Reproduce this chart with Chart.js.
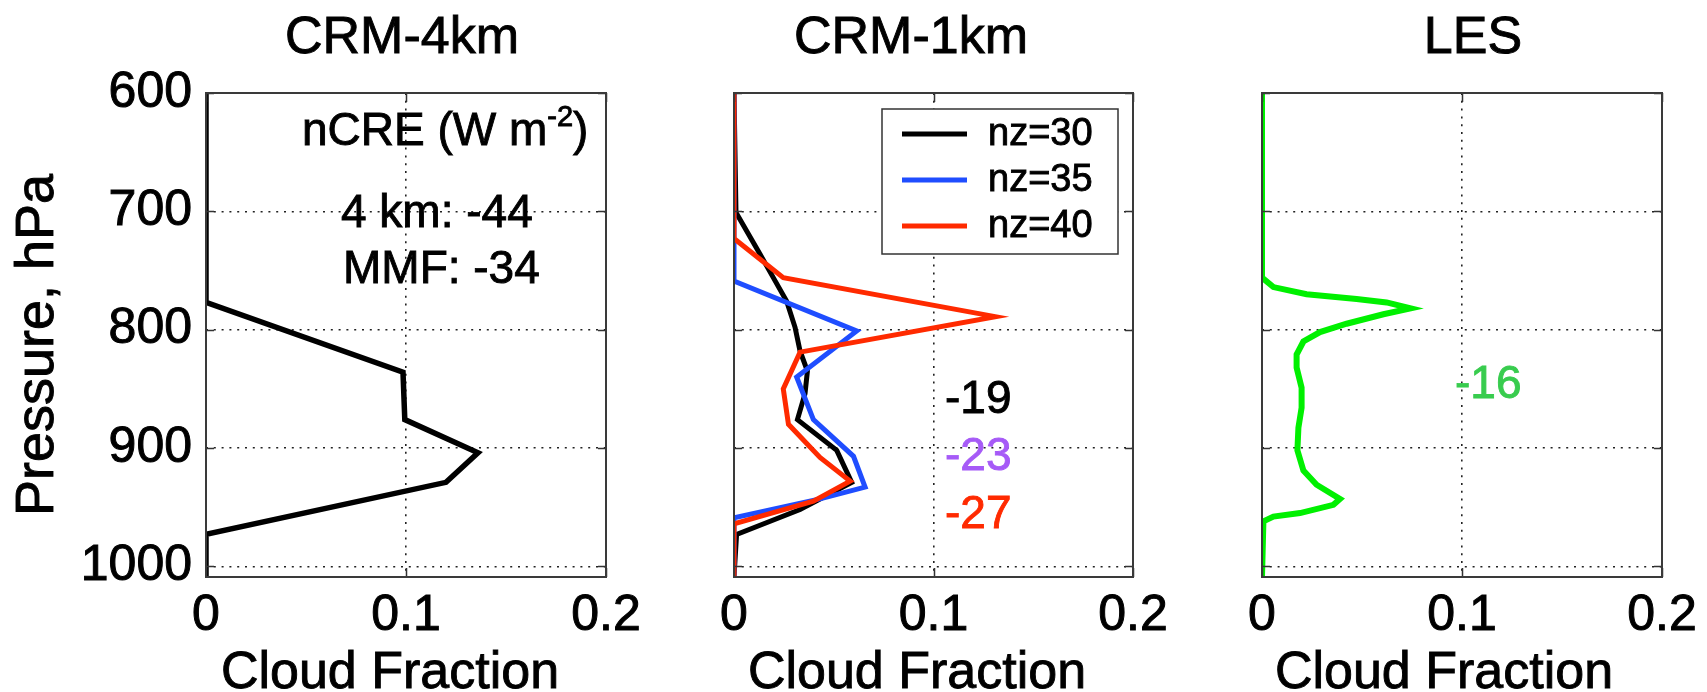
<!DOCTYPE html>
<html>
<head>
<meta charset="utf-8">
<script src="https://cdn.jsdelivr.net/npm/chart.js@4.4.1/dist/chart.umd.min.js"></script>
<style>
  body { margin: 0; background: #fff; }
  #wrap { position: relative; width: 1707px; height: 692px; overflow: hidden; }
  canvas { position: absolute; top: 0; }
</style>
</head>
<body>
<div id="wrap">
  <canvas id="c1" width="660" height="692" style="left:0px"></canvas>
  <canvas id="c2" width="560" height="692" style="left:640px"></canvas>
  <canvas id="c3" width="547" height="692" style="left:1160px"></canvas>
</div>
<script>
// axis ticks
const pTicks = [600, 700, 800, 900, 1000];
const cfTicks = [0, 0.1, 0.2];

// CRM-4km
const p4km  = [600, 777, 836, 876, 904, 929, 973, 1009];
const cf4km = [0, 0, 0.0985, 0.0994, 0.136, 0.12, 0, 0];

// CRM-1km, three vertical resolutions
const p30  = [600, 701, 736, 756, 776, 798, 818, 835, 854, 876, 902, 929, 952, 973, 1009];
const cf30 = [0, 0.001, 0.013, 0.0197, 0.0264, 0.0306, 0.0331, 0.0368, 0.0356, 0.0318, 0.0515, 0.059, 0.0331, 0.0013, 0];
const p35  = [600, 725, 759, 801, 840, 876, 907, 933, 943, 959, 1009];
const cf35 = [0, 0, 0, 0.0615, 0.0314, 0.0398, 0.0599, 0.0657, 0.0431, 0, 0];
const p40  = [600, 723, 756, 789, 819, 850, 880, 908, 928, 945, 964, 1009];
const cf40 = [0, 0, 0.0247, 0.131, 0.0331, 0.0247, 0.0273, 0.0431, 0.0582, 0.0398, 0, 0];

// LES
const pLes  = [600, 756, 764, 770, 774, 777, 782, 787, 795, 802, 810, 821, 832, 849, 866, 883, 902, 919, 931, 943, 948, 955, 958, 962, 1009];
const cfLes = [0, 0, 0.0057, 0.0223, 0.0473, 0.0623, 0.0743, 0.0607, 0.0423, 0.029, 0.0207, 0.0173, 0.0173, 0.0198, 0.0198, 0.0182, 0.0177, 0.0207, 0.0273, 0.039, 0.0357, 0.019, 0.0057, 0.0007, 0];

const FONT = "'Liberation Sans', Arial, Helvetica, sans-serif";
const pts = (xs, ps) => xs.map((v, i) => ({ x: v, y: ps[i] }));

// order: lower number is painted on top
function line(label, xs, ps, color, w, order) {
  return { label: label, data: pts(xs, ps), borderColor: color, backgroundColor: color,
           borderWidth: w, pointRadius: 0, showLine: true, tension: 0, order: order || 0 };
}

function fillStroke(ctx, s, x, y, color) {
  ctx.fillStyle = color;
  ctx.strokeStyle = color;
  ctx.lineWidth = 0.9;
  ctx.fillText(s, x, y);
  ctx.strokeText(s, x, y);
}

function drawText(ctx, it, off) {
  const col = it.color || '#000';
  ctx.save();
  ctx.font = (it.size || 46) + 'px ' + FONT;
  ctx.textBaseline = 'alphabetic';
  if (it.rot) {
    ctx.translate(it.x - off, it.y);
    ctx.rotate(-Math.PI / 2);
    ctx.textAlign = 'center';
    fillStroke(ctx, it.t, 0, 0, col);
  } else if (it.sup) {
    ctx.textAlign = 'left';
    let x = it.x - off;
    fillStroke(ctx, it.t, x, it.y, col);
    x += ctx.measureText(it.t).width;
    ctx.font = Math.round(it.size * 0.62) + 'px ' + FONT;
    fillStroke(ctx, it.sup, x, it.y - it.size * 0.42, col);
    x += ctx.measureText(it.sup).width;
    ctx.font = it.size + 'px ' + FONT;
    fillStroke(ctx, it.end, x, it.y, col);
  } else {
    ctx.textAlign = it.align || 'left';
    fillStroke(ctx, it.t, it.x - off, it.y, col);
  }
  ctx.restore();
}

function makePanel(id, off, yWidth, padRight, datasets, showY, texts, legendBox) {
  const deco = {
    id: 'deco' + id,
    afterDatasetsDraw(chart) {
      const { ctx, chartArea: a, scales } = chart;
      ctx.save();
      ctx.strokeStyle = '#333';
      ctx.lineWidth = 1.5;
      ctx.beginPath();
      pTicks.forEach(v => {
        const y = Math.round(scales.y.getPixelForValue(v)) + 0.5;
        ctx.moveTo(a.left, y); ctx.lineTo(a.left + 8, y);
        ctx.moveTo(a.right, y); ctx.lineTo(a.right - 8, y);
      });
      cfTicks.forEach(v => {
        const x = Math.round(scales.x.getPixelForValue(v)) + 0.5;
        ctx.moveTo(x, a.bottom); ctx.lineTo(x, a.bottom - 9);
        ctx.moveTo(x, a.top); ctx.lineTo(x, a.top + 9);
      });
      ctx.stroke();
      ctx.lineWidth = 2;
      ctx.strokeStyle = '#3a3a3a';
      ctx.strokeRect(a.left, a.top, a.right - a.left, a.bottom - a.top);

      if (legendBox) {
        const L = legendBox;
        ctx.fillStyle = '#fff';
        ctx.fillRect(L.x - off, L.y, L.w, L.h);
        ctx.lineWidth = 1.5;
        ctx.strokeStyle = '#333';
        ctx.strokeRect(L.x - off, L.y, L.w, L.h);
        chart.data.datasets.forEach((ds, i) => {
          const y = L.rows[i];
          ctx.strokeStyle = ds.borderColor;
          ctx.lineWidth = 5;
          ctx.beginPath();
          ctx.moveTo(L.x - off + 20, y); ctx.lineTo(L.x - off + 85, y);
          ctx.stroke();
          ctx.font = '38px ' + FONT;
          ctx.textBaseline = 'middle';
          ctx.textAlign = 'left';
          fillStroke(ctx, ds.label, L.x - off + 106, y + 1, '#000');
        });
      }
      ctx.restore();
      texts.forEach(it => drawText(ctx, it, off));
    }
  };

  const gridDash = { display: false, dash: [2, 5.8] };

  return new Chart(document.getElementById('c' + id), {
    type: 'scatter',
    data: { datasets: datasets },
    options: {
      responsive: false,
      animation: false,
      devicePixelRatio: 1,
      layout: { padding: { left: 0, right: padRight, top: 93, bottom: 0 } },
      plugins: { legend: { display: false }, tooltip: { enabled: false }, title: { display: false } },
      scales: {
        x: {
          type: 'linear', min: 0, max: 0.2,
          afterBuildTicks: s => { s.ticks = cfTicks.map(v => ({ value: v })); },
          afterFit: s => { s.height = 115; },
          ticks: { font: { family: FONT, size: 50 }, color: '#000', padding: 9,
                   textStrokeColor: '#000', textStrokeWidth: 1,
                   maxRotation: 0, callback: v => String(v) },
          grid: { color: '#222', lineWidth: 1.6, drawTicks: false },
          border: gridDash
        },
        y: {
          type: 'linear', min: 600, max: 1009, reverse: true,
          afterBuildTicks: s => { s.ticks = pTicks.map(v => ({ value: v })); },
          afterFit: s => { s.width = yWidth; },
          ticks: { display: showY, font: { family: FONT, size: 50 }, color: '#000', padding: 14,
                   textStrokeColor: '#000', textStrokeWidth: 1,
                   callback: v => String(v) },
          grid: { color: '#222', lineWidth: 1.6, drawTicks: false },
          border: gridDash
        }
      }
    },
    plugins: [deco]
  });
}

makePanel(1, 0, 206, 54,
  [line('CRM-4km', cf4km, p4km, '#000', 5.5)], true,
  [
    { t: 'CRM-4km', x: 402, y: 53, size: 52, align: 'center' },
    { t: 'Pressure, hPa', x: 53, y: 345, size: 54, rot: true },
    { t: 'Cloud Fraction', x: 390, y: 688, size: 52, align: 'center' },
    { t: 'nCRE (W m', sup: '-2', end: ')', x: 302, y: 145, size: 46 },
    { t: '4 km: -44', x: 341, y: 227, size: 46 },
    { t: 'MMF: -34', x: 343, y: 283, size: 46 }
  ], null);

makePanel(2, 640, 94, 67,
  [line('nz=30', cf30, p30, '#000', 5, 2),
   line('nz=35', cf35, p35, '#1f4dff', 5, 1),
   line('nz=40', cf40, p40, '#ff2a00', 5, 0)], false,
  [
    { t: 'CRM-1km', x: 911, y: 53, size: 52, align: 'center' },
    { t: 'Cloud Fraction', x: 917, y: 688, size: 52, align: 'center' },
    { t: '-19', x: 945, y: 413, size: 46, color: '#000' },
    { t: '-23', x: 945, y: 470, size: 46, color: '#a65af7' },
    { t: '-27', x: 945, y: 528, size: 46, color: '#ff2a00' }
  ],
  { x: 882, y: 109, w: 236, h: 145, rows: [134, 180, 226] });

makePanel(3, 1160, 102, 45,
  [line('LES', cfLes, pLes, '#00f000', 6)], false,
  [
    { t: 'LES', x: 1473, y: 53, size: 52, align: 'center' },
    { t: 'Cloud Fraction', x: 1444, y: 688, size: 52, align: 'center' },
    { t: '-16', x: 1455, y: 398, size: 46, color: '#38cc4e' }
  ], null);
</script>
</body>
</html>
